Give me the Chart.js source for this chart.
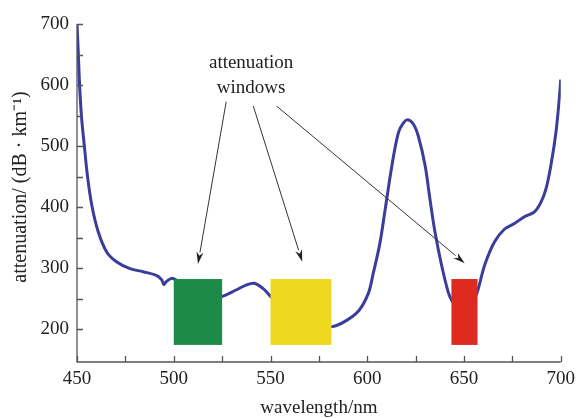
<!DOCTYPE html>
<html>
<head>
<meta charset="utf-8">
<script src="https://cdn.jsdelivr.net/npm/chart.js@4"></script>
<style>
  html, body { margin: 0; padding: 0; background: #ffffff; }
  #wrap { width: 581px; height: 418px; }
</style>
</head>
<body>
<div id="wrap"><canvas id="c" width="581" height="418"></canvas></div>
<script>
// Attenuation spectrum of the fibre (wavelength in nm, attenuation in dB/km)
const wavelength = [
  450, 450.6, 451.3, 452.3, 453.8, 455.4, 457.7, 461, 465.4, 470.6,
  477.4, 484.2, 491, 493.7, 494.9, 496.2, 499.5, 505, 512, 519,
  524.5, 532.2, 537.4, 541.6, 545.9, 549.3, 556, 564, 572, 581.9,
  588.7, 595.6, 600.5, 603, 606.5, 609.3, 612.7, 616.1, 618.7, 620.9,
  623.8, 626.4, 629.9, 632.4, 635, 638.4, 641.8, 643.5, 647, 650.5,
  654, 656.9, 660.7, 665.8, 671, 676.1, 681.2, 686.4, 689.8, 692.4,
  694.9, 697.5, 699.2, 700
];
const attenuation = [
  700, 658, 603, 549, 500, 451, 402, 359, 326, 310,
  299, 294, 288, 281, 273, 278, 283, 272, 260, 253,
  253, 264, 272, 275, 267, 256, 235, 214, 204, 204,
  213, 230, 258, 290, 340, 397, 467, 522, 538, 543,
  536, 516, 468, 413, 359, 305, 261, 248, 232, 230,
  240, 261, 305, 343, 364, 373, 384, 392, 408, 430,
  468, 522, 576, 609
];

// Low-loss transmission windows
const windowStart = [500, 550, 643.5];
const windowEnd = [525, 581.5, 657];
const windowLow = [174, 174, 174];
const windowHigh = [282, 282, 282];
const windowColors = ['#1d8a48', '#efd920', '#dd2b20'];

// Axis ranges and labelled ticks
const xMin = 450, xMax = 700;
const yMin = 146, yMax = 700;
const xLabelled = [450, 500, 550, 600, 650, 700];
const yLabelled = [200, 300, 400, 500, 600, 700];

// Callout text and its arrows (data coordinates)
const calloutLines = ['attenuation', 'windows'];
const calloutX = 540;
const calloutY = [636.6, 594.6];
const arrowTailX = [527.1, 541.1, 553.1];
const arrowTailY = [572.6, 565.6, 565.6];
const arrowTipX = [512.5, 566.4, 650.4];
const arrowTipY = [306.6, 310.4, 307.8];

const SERIF = '"Liberation Serif", "Times New Roman", serif';
const INK = '#222222';
const AXIS = '#555555';

const windowsPlugin = {
  id: 'windows',
  afterDatasetsDraw(chart) {
    const { ctx, scales: { x, y } } = chart;
    ctx.save();
    windowStart.forEach((s, i) => {
      const x0 = x.getPixelForValue(s), x1 = x.getPixelForValue(windowEnd[i]);
      const y0 = y.getPixelForValue(windowHigh[i]), y1 = y.getPixelForValue(windowLow[i]);
      ctx.fillStyle = windowColors[i];
      ctx.fillRect(x0, y0, x1 - x0, y1 - y0);
    });
    ctx.restore();
  }
};

const framePlugin = {
  id: 'frame',
  afterDraw(chart) {
    const { ctx, chartArea: a, scales: { x, y } } = chart;
    ctx.save();
    // axis lines
    ctx.strokeStyle = AXIS;
    ctx.lineWidth = 1.3;
    ctx.beginPath();
    ctx.moveTo(a.left, a.top);
    ctx.lineTo(a.left, a.bottom);
    ctx.lineTo(a.right, a.bottom);
    ctx.stroke();
    // inward tick marks
    const tl = 6;
    ctx.beginPath();
    x.ticks.forEach(t => {
      const px = Math.round(x.getPixelForValue(t.value)) + 0.5;
      ctx.moveTo(px, a.bottom);
      ctx.lineTo(px, a.bottom - tl);
    });
    y.ticks.forEach(t => {
      if (t.value < 200) return;
      const py = Math.round(y.getPixelForValue(t.value)) + 0.5;
      ctx.moveTo(a.left, py);
      ctx.lineTo(a.left + tl, py);
    });
    ctx.stroke();

    // axis titles
    ctx.fillStyle = INK;
    ctx.font = '19px ' + SERIF;
    ctx.textAlign = 'center';
    ctx.textBaseline = 'middle';
    ctx.fillText('wavelength/nm', (a.left + a.right) / 2, 408);
    ctx.save();
    ctx.font = '20px ' + SERIF;
    ctx.translate(21, (a.top + a.bottom) / 2 - 6);
    ctx.rotate(-Math.PI / 2);
    ctx.fillText('attenuation/ (dB \u00b7 km\u207b\u00b9)', 0, 0);
    ctx.restore();

    // callout
    calloutLines.forEach((line, i) => {
      ctx.fillText(line, x.getPixelForValue(calloutX), y.getPixelForValue(calloutY[i]));
    });

    // arrows
    ctx.strokeStyle = '#333333';
    ctx.fillStyle = '#222222';
    ctx.lineWidth = 1;
    arrowTailX.forEach((tx, i) => {
      const x0 = x.getPixelForValue(tx), y0 = y.getPixelForValue(arrowTailY[i]);
      const x1 = x.getPixelForValue(arrowTipX[i]), y1 = y.getPixelForValue(arrowTipY[i]);
      const ang = Math.atan2(y1 - y0, x1 - x0);
      const hl = 12, hw = 3.5;
      const bx = x1 - hl * Math.cos(ang), by = y1 - hl * Math.sin(ang);
      ctx.beginPath();
      ctx.moveTo(x0, y0);
      ctx.lineTo(bx, by);
      ctx.stroke();
      ctx.beginPath();
      ctx.moveTo(x1, y1);
      ctx.lineTo(bx + hw * Math.sin(ang), by - hw * Math.cos(ang));
      ctx.lineTo(x1 - 0.7 * hl * Math.cos(ang), y1 - 0.7 * hl * Math.sin(ang));
      ctx.lineTo(bx - hw * Math.sin(ang), by + hw * Math.cos(ang));
      ctx.closePath();
      ctx.fill();
    });
    ctx.restore();
  }
};

new Chart(document.getElementById('c'), {
  type: 'line',
  data: {
    datasets: [{
      data: wavelength.map((w, i) => ({ x: w, y: attenuation[i] })),
      borderColor: '#393d9c',
      borderWidth: 3,
      pointRadius: 0,
      tension: 0.35,
      fill: false
    }]
  },
  options: {
    responsive: false,
    devicePixelRatio: 1,
    animation: false,
    layout: { padding: { top: 24, right: 18, left: 0, bottom: 0 } },
    plugins: { legend: { display: false }, tooltip: { enabled: false } },
    scales: {
      x: {
        type: 'linear',
        min: xMin,
        max: xMax,
        afterFit: s => { s.height = 56; },
        grid: { display: false, drawTicks: false },
        border: { display: false },
        ticks: {
          stepSize: 25,
          autoSkip: false,
          maxRotation: 0,
          padding: 6,
          color: INK,
          font: { family: SERIF, size: 19 },
          callback: v => (xLabelled.includes(v) ? String(v) : '')
        }
      },
      y: {
        type: 'linear',
        min: yMin,
        max: yMax,
        afterFit: s => { s.width = 77; },
        afterBuildTicks: s => { s.ticks = s.ticks.filter(t => t.value % 50 === 0); },
        grid: { display: false, drawTicks: false },
        border: { display: false },
        ticks: {
          stepSize: 50,
          autoSkip: false,
          padding: 8,
          color: INK,
          font: { family: SERIF, size: 19 },
          callback: v => (yLabelled.includes(v) ? String(v) : '')
        }
      }
    }
  },
  plugins: [windowsPlugin, framePlugin]
});
</script>
</body>
</html>
